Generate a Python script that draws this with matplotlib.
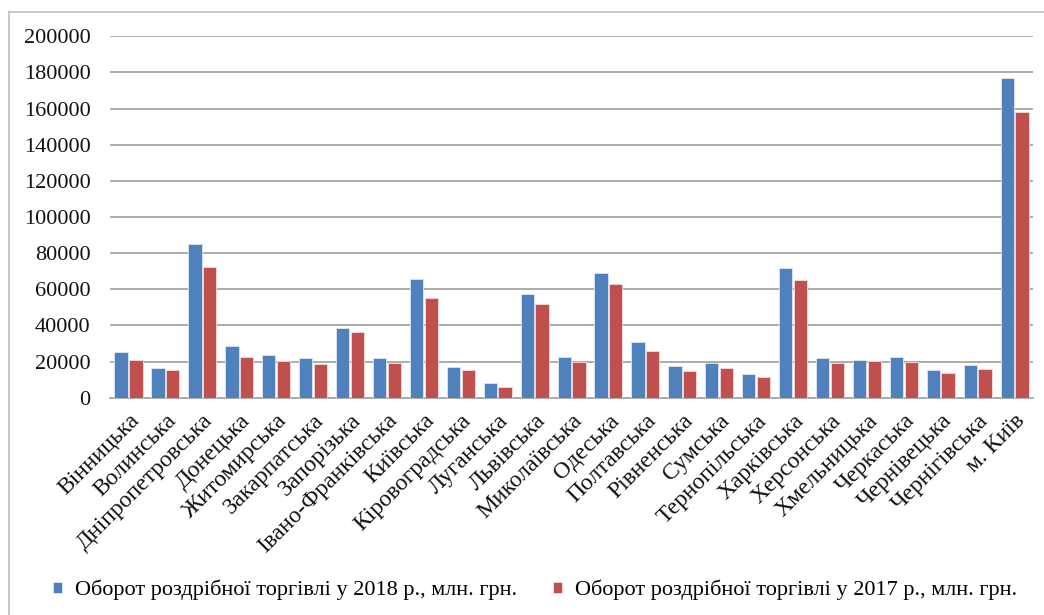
import numpy as np
import matplotlib
matplotlib.use("Agg")
import matplotlib.pyplot as plt
from matplotlib.lines import Line2D

plt.rcParams['font.family'] = ['Liberation Serif', 'DejaVu Serif']

regions = ["Вінницька", "Волинська", "Дніпропетровська", "Донецька", "Житомирська",
           "Закарпатська", "Запорізька", "Івано-Франківська", "Київська", "Кіровоградська",
           "Луганська", "Львівська", "Миколаївська", "Одеська", "Полтавська",
           "Рівненська", "Сумська", "Тернопільська", "Харківська", "Херсонська",
           "Хмельницька", "Черкаська", "Чернівецька", "Чернігівська", "м. Київ"]
sales_2018 = [25100, 16300, 84900, 28800, 23400, 21800, 38400, 21800, 65500, 16800,
              8100, 57400, 22300, 69000, 31000, 17400, 19400, 12900, 72000, 21800,
              20700, 22300, 15100, 17900, 176700]
sales_2017 = [20900, 15300, 72300, 22300, 20100, 18500, 36400, 19400, 55200, 15300,
              5700, 51900, 19600, 62900, 25800, 14900, 16500, 11700, 65000, 19400,
              20500, 19900, 13700, 15900, 158100]
label_2018 = "Оборот роздрібної торгівлі у 2018 р., млн. грн."
label_2017 = "Оборот роздрібної торгівлі у 2017 р., млн. грн."

fig = plt.figure(figsize=(10.44, 6.15), dpi=100)
ax = fig.add_axes([0.1054, 0.3533, 0.8841, 0.5877])

x = np.arange(len(regions))
w = 0.36
ax.bar(x - 0.2, sales_2018, w, color="#4F81BD", edgecolor="#DCE6F2", linewidth=0.6,
       label=label_2018, zorder=3)
ax.bar(x + 0.2, sales_2017, w, color="#C0504D", edgecolor="#F2DCDB", linewidth=0.6,
       label=label_2017, zorder=3)

ax.set_xlim(-0.5, len(regions) - 0.5)
ax.set_ylim(0, 200000)
ax.set_yticks(range(0, 200001, 20000))
ax.yaxis.grid(True, color="#A6A6A6", linewidth=1.3)
ax.set_axisbelow(True)
for s in ["top", "right", "left"]:
    ax.spines[s].set_visible(False)
ax.spines["bottom"].set_color("#A6A6A6")
ax.spines["bottom"].set_linewidth(1.3)
ax.tick_params(axis="y", length=0, pad=14, labelsize=16, colors="#111111")
ax.tick_params(axis="x", length=0, pad=9)
ax.set_xticks(x)
ax.set_xticklabels(regions, rotation=45, ha="right", va="top",
                   rotation_mode="anchor", fontsize=17, color="#111111")

fig.legend(loc="center", bbox_to_anchor=(535 / 1044, 1 - 590 / 615), ncol=2,
           frameon=False, fontsize=16, handlelength=0.4, handleheight=0.4,
           handletextpad=0.6, columnspacing=1.6)

# chart area border
fig.add_artist(Line2D([9 / 1044, 9 / 1044], [0, 1 - 12 / 615], color="#BFBFBF", linewidth=1.2))
fig.add_artist(Line2D([9 / 1044, 1], [1 - 12 / 615, 1 - 12 / 615], color="#BFBFBF", linewidth=1.2))

fig.savefig("out.png", dpi=100)
